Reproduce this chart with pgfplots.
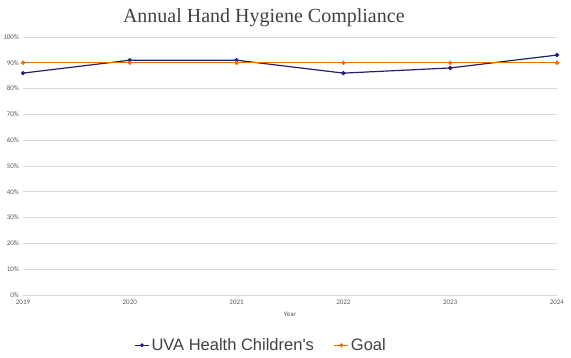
\documentclass[border=0pt]{standalone}
\usepackage{pgfplots}
\pgfplotsset{compat=1.18}
\usepackage{fontspec}
\setmainfont{Carlito}
\newfontfamily\titlefont{Liberation Serif}
\newfontfamily\legfont{Liberation Sans}
\definecolor{uvapurple}{HTML}{2E1A6E}
\definecolor{uvaorange}{HTML}{E57200}
\definecolor{gridgray}{HTML}{D9D9D9}
\definecolor{textgray}{HTML}{595959}
\begin{document}
\begin{tikzpicture}[x=1pt,y=1pt]
\path[use as bounding box] (-23,-62) rectangle (548,295);
\begin{axis}[
  at={(0,0)}, anchor=south west,
  scale only axis, width=534pt, height=258pt,
  xmin=2019, xmax=2024, ymin=0, ymax=100,
  xtick={2019,...,2024},
  xticklabels={2019,2020,2021,2022,2023,2024},
  ytick={0,10,...,100},
  yticklabel={\pgfmathprintnumber{\tick}\%},
  /pgf/number format/assume math mode=true,
  ymajorgrids, major grid style={gridgray, line width=0.8pt},
  axis line style={draw=none},
  axis x line*=bottom,
  x axis line style={draw=gridgray, line width=0.8pt},
  tick style={draw=none},
  ticklabel style={font=\fontsize{7}{8}\selectfont, text=textgray},
  xticklabel style={yshift=-1.5pt},
  yticklabel style={xshift=-0.5pt},
  xlabel={Year},
  xlabel style={font=\fontsize{7}{8}\selectfont, text=textgray, yshift=-1pt},
  title={\titlefont Annual Hand Hygiene Compliance},
  title style={font=\fontsize{20}{22}\selectfont, text=black!75, at={(0.451,1)}, anchor=base, yshift=9pt},
  legend style={at={(0.446,-0.195)}, anchor=center, draw=none, fill=none,
    legend columns=2, font=\legfont\fontsize{16.5}{18}\selectfont, text=black!75,
    /tikz/every even column/.append style={column sep=18pt}},
  legend cell align=left,
  legend image code/.code={
    \draw[#1, line width=1pt, mark=none] (0cm,0cm) -- (14pt,0cm);
    \fill[#1] (7pt,0) circle (1.3pt);
  },
]
\addplot[uvapurple, line width=1.2pt, mark=*, mark size=1.5pt] coordinates {
  (2019,86) (2020,91) (2021,91) (2022,86) (2023,88) (2024,93)
};
\addlegendentry{UVA Health Children's}
\addplot[uvaorange, line width=1.2pt, mark=*, mark size=1.5pt] coordinates {
  (2019,90) (2020,90) (2021,90) (2022,90) (2023,90) (2024,90)
};
\addlegendentry{Goal}
\end{axis}
\end{tikzpicture}
\end{document}
